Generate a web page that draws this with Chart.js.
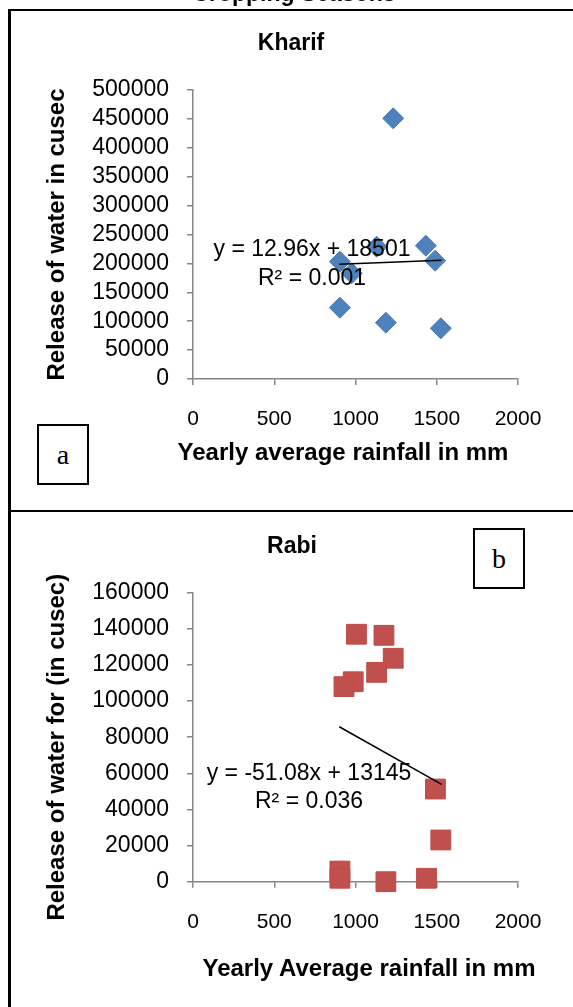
<!DOCTYPE html>
<html>
<head>
<meta charset="utf-8">
<script src="https://cdn.jsdelivr.net/npm/chart.js@4.4.1/dist/chart.umd.min.js"></script>
<style>
  html, body { margin: 0; padding: 0; background: #fff; overflow: hidden; }
  body { width: 573px; height: 1007px; position: relative; font-family: "Liberation Sans", Arial, sans-serif; color: #000; }
  .abs { position: absolute; }
  #frame { left: 8px; top: 9px; width: 700px; height: 1100px; border-left: 3px solid #000; border-top: 2px solid #000; box-sizing: border-box; }
  #divider { left: 8px; top: 510px; width: 600px; height: 0; border-top: 2.5px solid #000; }
  canvas { position: absolute; left: 0; }
  .c { white-space: nowrap; transform: translate(-50%, -50%); }
  .ttl { font-weight: bold; font-size: 23px; }
  .xt { font-weight: bold; font-size: 24px; }
  .eq { font-size: 23px; }
  .tag { width: 52px; height: 61px; border: 2px solid #000; box-sizing: border-box; background: #fff;
         font-family: "Liberation Serif", "Times New Roman", serif; font-size: 28px;
         display: flex; align-items: center; justify-content: center; }
</style>
</head>
<body>
<div id="frame" class="abs"></div>
<canvas id="kharif" width="573" height="510" style="top:0"></canvas>
<canvas id="rabi" width="573" height="495" style="top:512px"></canvas>
<div id="divider" class="abs"></div>

<div class="abs c ttl" style="left:294px; top:-7px">Cropping Seasons</div>
<div class="abs c ttl" style="left:291px; top:42px">Kharif</div>
<div class="abs c ttl" style="left:292px; top:545px">Rabi</div>
<div class="abs c xt" style="left:343px; top:452px">Yearly average rainfall in mm</div>
<div class="abs c xt" style="left:369px; top:968px">Yearly Average rainfall in mm</div>

<div class="abs c eq" style="left:312px; top:248px">y = 12.96x + 18501</div>
<div class="abs c eq" style="left:312px; top:277px">R² = 0.001</div>
<div class="abs c eq" style="left:309px; top:772px">y = -51.08x + 13145</div>
<div class="abs c eq" style="left:309px; top:800px">R² = 0.036</div>

<div class="abs tag" style="left:37px; top:424px">a</div>
<div class="abs tag" style="left:473px; top:528px">b</div>

<script>
// Kharif (a): yearly rainfall (mm) vs release of water (cusec)
const kharifRain    = [1232, 1433, 1490, 1130, 976, 904, 904, 1187, 1525];
const kharifRelease = [451000, 230600, 204700, 228900, 182900, 203000, 123400, 97400, 87700];
const kharifTrendRain    = [900, 1530];
const kharifTrendRelease = [198400, 205400];

// Rabi (b)
const rabiRain    = [1006, 1175, 1232, 1130, 986, 929, 1492, 1525, 904, 904, 1187, 1437];
const rabiRelease = [137000, 136400, 123700, 115900, 110700, 108000, 51300, 23100, 5900, 1900, 0, 1900];
const rabiTrendRain    = [900, 1530];
const rabiTrendRelease = [85800, 53900];

// tick labels
const rainTicks    = [0, 500, 1000, 1500, 2000];
const kharifTicks  = [0, 50000, 100000, 150000, 200000, 250000, 300000, 350000, 400000, 450000, 500000];
const rabiTicks    = [0, 20000, 40000, 60000, 80000, 100000, 120000, 140000, 160000];

const AXIS = "#868686";
const FONT = "'Liberation Sans', Arial, sans-serif";
const pts = (xs, ys) => xs.map((x, i) => ({ x, y: ys[i] }));
const fixTicks = (vals) => (s) => { s.ticks = vals.map((v) => ({ value: v })); };
const plain = (v) => String(v); // no thousands separators, as in the source

function makeChart(id, c) {
  return new Chart(document.getElementById(id), {
    type: "scatter",
    data: {
      datasets: [
        {
          data: pts(c.rain, c.release), order: 1, clip: false,
          pointStyle: c.style, pointRadius: c.radius, pointHoverRadius: c.radius,
          backgroundColor: c.fill, borderColor: c.edge, borderWidth: 1,
        },
        {
          type: "line", data: pts(c.trendRain, c.trendRelease), order: 0, clip: false,
          borderColor: "#000", borderWidth: 1.5, pointRadius: 0, fill: false,
        },
      ],
    },
    options: {
      responsive: false, animation: false, events: [],
      layout: { padding: { left: 0, right: 55, top: c.padTop, bottom: 0 } },
      plugins: { legend: { display: false }, tooltip: { enabled: false } },
      scales: {
        x: {
          type: "linear", min: 0, max: 2000,
          afterBuildTicks: fixTicks(rainTicks),
          afterFit: (s) => { s.height = c.xHeight; },
          grid: { drawOnChartArea: false, drawTicks: true, tickLength: 6, color: AXIS, lineWidth: 1.5 },
          border: { color: AXIS, width: 1.5 },
          ticks: { color: "#000", font: { family: FONT, size: 21 }, padding: 22, maxRotation: 0,
                   autoSkip: false, callback: plain },
        },
        y: {
          type: "linear", min: 0, max: c.yTicks[c.yTicks.length - 1],
          afterBuildTicks: fixTicks(c.yTicks),
          afterFit: (s) => { s.width = 193; },
          grid: { drawOnChartArea: false, drawTicks: true, tickLength: 6, color: AXIS, lineWidth: 1.5 },
          border: { color: AXIS, width: 1.5 },
          ticks: { color: "#000", font: { family: FONT, size: 23 }, padding: 18, autoSkip: false,
                   callback: plain },
          title: { display: true, text: c.yTitle, color: "#000",
                   font: { family: FONT, size: 24, weight: "bold" }, padding: { top: 42.6, bottom: 0 } },
        },
      },
    },
  });
}

makeChart("kharif", {
  rain: kharifRain, release: kharifRelease,
  trendRain: kharifTrendRain, trendRelease: kharifTrendRelease,
  style: "rectRot", radius: 10.5, fill: "#4F81BD", edge: "#4A7EBB",
  yTicks: kharifTicks, padTop: 90, xHeight: 131,
  yTitle: "Release of water in cusec",
});

makeChart("rabi", {
  rain: rabiRain, release: rabiRelease,
  trendRain: rabiTrendRain, trendRelease: rabiTrendRelease,
  style: "rect", radius: 14, fill: "#C0504D", edge: "#BE4B48",
  yTicks: rabiTicks, padTop: 80.7, xHeight: 125.3,
  yTitle: "Release of water for (in cusec)\u00a0\u00a0\u00a0",
});
</script>
</body>
</html>
